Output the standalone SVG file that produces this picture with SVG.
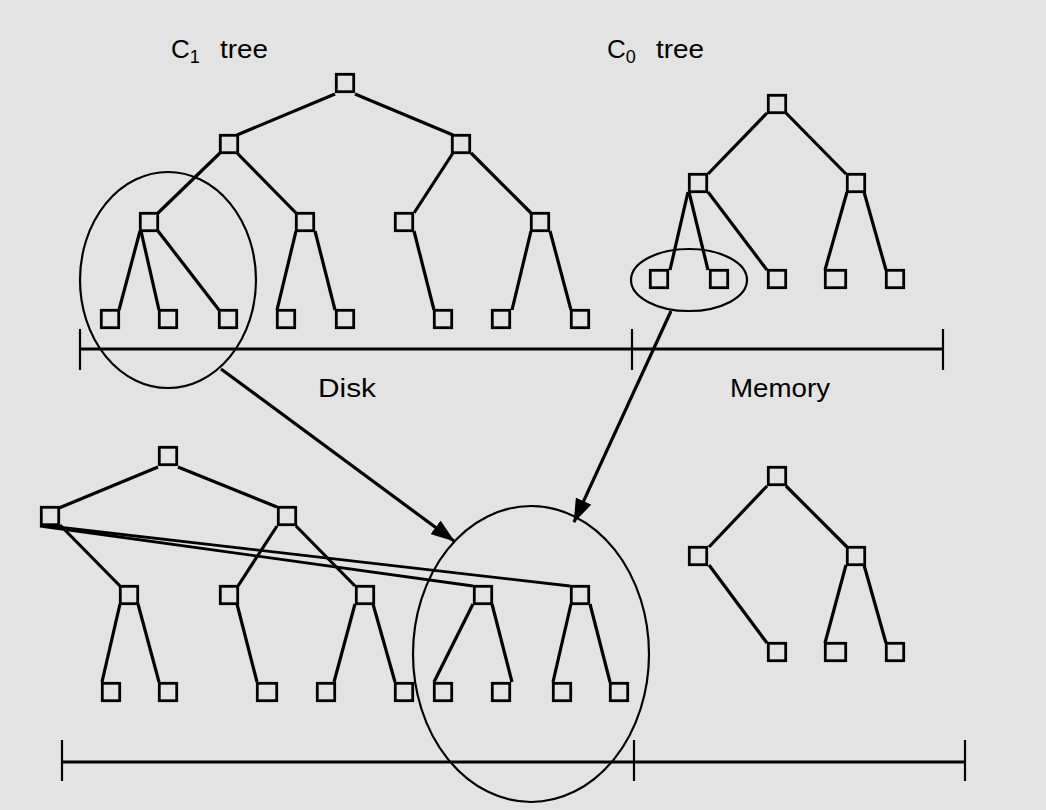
<svg xmlns="http://www.w3.org/2000/svg" width="1046" height="810" viewBox="0 0 1046 810">
<defs>
<style>
.bg{fill:#e3e3e3}
.n{fill:none;stroke:#000;stroke-width:2.8}
.e{stroke:#000;stroke-width:3.2;stroke-linecap:butt;fill:none}
.thin{stroke:#000;stroke-width:2.8;fill:none}
.ell{fill:none;stroke:#000;stroke-width:2.2}
.ax{stroke:#000;stroke-width:3;fill:none}
.tk{stroke:#000;stroke-width:2.2;fill:none}
.arr{stroke:#000;stroke-width:3.2;fill:none}
.t{font-family:"Liberation Sans",Arial,sans-serif;font-size:26px;fill:#000}
.s{font-size:18px}
</style>
<marker id="ah" viewBox="0 0 24 17" refX="23" refY="8.5" markerWidth="24" markerHeight="17" markerUnits="userSpaceOnUse" orient="auto">
<path d="M0,0 L24,8.5 L0,17 z" fill="#000"/>
</marker>
</defs>
<rect class="bg" x="0" y="0" width="1046" height="810"/>

<g id="labels">
<text class="t" x="171" y="58">C<tspan class="s" dy="5">1</tspan><tspan x="220" dy="-5" textLength="48" lengthAdjust="spacingAndGlyphs">tree</tspan></text>
<text class="t" x="607" y="58">C<tspan class="s" dy="5">0</tspan><tspan x="656" dy="-5" textLength="48" lengthAdjust="spacingAndGlyphs">tree</tspan></text>
<text class="t" x="318" y="397" textLength="58" lengthAdjust="spacingAndGlyphs">Disk</text>
<text class="t" x="730" y="397" textLength="100" lengthAdjust="spacingAndGlyphs">Memory</text>
</g>

<g id="axes">
<line class="ax" x1="80" y1="349" x2="943" y2="349"/>
<line class="tk" x1="80" y1="329" x2="80" y2="370"/>
<line class="tk" x1="632" y1="329" x2="632" y2="370"/>
<line class="tk" x1="943" y1="329" x2="943" y2="370"/>
<line class="ax" x1="62" y1="762" x2="965" y2="762"/>
<line class="tk" x1="62" y1="740" x2="62" y2="781"/>
<line class="tk" x1="634" y1="740" x2="634" y2="781"/>
<line class="tk" x1="965" y1="740" x2="965" y2="781"/>
</g>

<g id="connectors">
<!-- C1 tree -->
<line class="e" x1="335" y1="94" x2="237" y2="135"/>
<line class="e" x1="355" y1="94" x2="453" y2="135"/>
<line class="e" x1="220" y1="153" x2="158" y2="213"/>
<line class="e" x1="237" y1="153" x2="296" y2="213"/>
<line class="e" x1="453" y1="153" x2="414" y2="213"/>
<line class="e" x1="471" y1="153" x2="531" y2="213"/>
<line class="e" x1="140" y1="231" x2="119" y2="310"/>
<line class="e" x1="141" y1="231" x2="159" y2="310"/>
<line class="e" x1="158" y1="231" x2="219" y2="310"/>
<line class="e" x1="296" y1="231" x2="277" y2="310"/>
<line class="e" x1="315" y1="231" x2="335" y2="310"/>
<line class="e" x1="414" y1="231" x2="434" y2="310"/>
<line class="e" x1="531" y1="231" x2="512" y2="310"/>
<line class="e" x1="550" y1="231" x2="571" y2="310"/>
<!-- C0 tree -->
<line class="e" x1="767" y1="113" x2="708" y2="174"/>
<line class="e" x1="786" y1="113" x2="846" y2="174"/>
<line class="e" x1="688" y1="192" x2="670" y2="270"/>
<line class="e" x1="689" y1="192" x2="708" y2="270"/>
<line class="e" x1="708" y1="192" x2="767" y2="270"/>
<line class="e" x1="847" y1="192" x2="825" y2="270"/>
<line class="e" x1="864" y1="192" x2="886" y2="270"/>
<!-- bottom merged tree -->
<line class="e" x1="158" y1="467" x2="59" y2="508"/>
<line class="e" x1="178" y1="467" x2="277" y2="507"/>
<line class="e" x1="60" y1="525" x2="120" y2="586"/>
<line class="thin" x1="40" y1="526" x2="473" y2="586"/>
<line class="thin" x1="40" y1="525" x2="570" y2="586"/>
<line class="e" x1="277" y1="526" x2="238" y2="586"/>
<line class="e" x1="296" y1="526" x2="355" y2="586"/>
<line class="e" x1="120" y1="604" x2="102" y2="682"/>
<line class="e" x1="138" y1="604" x2="159" y2="682"/>
<line class="e" x1="237" y1="604" x2="257" y2="682"/>
<line class="e" x1="355" y1="604" x2="334" y2="682"/>
<line class="e" x1="373" y1="604" x2="395" y2="682"/>
<line class="e" x1="473" y1="604" x2="434" y2="682"/>
<line class="e" x1="492" y1="604" x2="512" y2="682"/>
<line class="e" x1="571" y1="604" x2="553" y2="682"/>
<line class="e" x1="590" y1="604" x2="610" y2="682"/>
<!-- bottom C0 tree -->
<line class="e" x1="767" y1="486" x2="709" y2="547"/>
<line class="e" x1="786" y1="486" x2="847" y2="547"/>
<line class="e" x1="709" y1="565" x2="767" y2="643"/>
<line class="e" x1="846" y1="565" x2="825" y2="643"/>
<line class="e" x1="864" y1="565" x2="886" y2="643"/>
<!-- merge arrows -->
<line class="arr" x1="221" y1="369" x2="454" y2="541" marker-end="url(#ah)"/>
<line class="arr" x1="671" y1="311" x2="574" y2="522" marker-end="url(#ah)"/>
</g>

<g id="ellipses">
<ellipse id="c1-subtree" class="ell" cx="168" cy="280" rx="88" ry="108"/>
<ellipse id="c0-leaves" class="ell" cx="689" cy="280" rx="58" ry="31"/>
<ellipse id="merged-region" class="ell" cx="531" cy="654" rx="118" ry="148"/>
</g>

<g id="c1-nodes">
<g id="c1-root"><rect class="n" x="336.3" y="74.3" width="17.4" height="17.4"/></g>
<g id="c1-l2a"><rect class="n" x="220.3" y="135.3" width="17.4" height="17.4"/></g>
<g id="c1-l2b"><rect class="n" x="452.3" y="135.3" width="17.4" height="17.4"/></g>
<g id="c1-l3a"><rect class="n" x="140.3" y="213.3" width="17.4" height="17.4"/></g>
<g id="c1-l3b"><rect class="n" x="296.3" y="213.3" width="17.4" height="17.4"/></g>
<g id="c1-l3c"><rect class="n" x="395.3" y="213.3" width="17.4" height="17.4"/></g>
<g id="c1-l3d"><rect class="n" x="531.3" y="213.3" width="17.4" height="17.4"/></g>
<g id="c1-leaf1"><rect class="n" x="101.3" y="310.3" width="17.4" height="17.4"/></g>
<g id="c1-leaf2"><rect class="n" x="159.3" y="310.3" width="17.4" height="17.4"/></g>
<g id="c1-leaf3"><rect class="n" x="219.3" y="310.3" width="17.4" height="17.4"/></g>
<g id="c1-leaf4"><rect class="n" x="277.3" y="310.3" width="17.4" height="17.4"/></g>
<g id="c1-leaf5"><rect class="n" x="336.3" y="310.3" width="17.4" height="17.4"/></g>
<g id="c1-leaf6"><rect class="n" x="434.3" y="310.3" width="17.4" height="17.4"/></g>
<g id="c1-leaf7"><rect class="n" x="492.3" y="310.3" width="17.4" height="17.4"/></g>
<g id="c1-leaf8"><rect class="n" x="571.3" y="310.3" width="17.4" height="17.4"/></g>
</g>

<g id="c0-nodes">
<g id="c0-root"><rect class="n" x="768.3" y="95.3" width="17.4" height="17.4"/></g>
<g id="c0-l2a"><rect class="n" x="689.3" y="174.3" width="17.4" height="17.4"/></g>
<g id="c0-l2b"><rect class="n" x="847.3" y="174.3" width="17.4" height="17.4"/></g>
<g id="c0-leaf1"><rect class="n" x="650.3" y="270.3" width="17.4" height="17.4"/></g>
<g id="c0-leaf2"><rect class="n" x="710.3" y="270.3" width="17.4" height="17.4"/></g>
<g id="c0-leaf3"><rect class="n" x="768.3" y="270.3" width="17.4" height="17.4"/></g>
<g id="c0-leaf4"><rect class="n" x="825.3" y="270.3" width="20.4" height="17.4"/></g>
<g id="c0-leaf5"><rect class="n" x="886.3" y="270.3" width="17.4" height="17.4"/></g>
</g>

<g id="new-c1-nodes">
<g id="n-root"><rect class="n" x="159.3" y="447.3" width="17.4" height="17.4"/></g>
<g id="n-l2a"><rect class="n" x="41.3" y="507.3" width="17.4" height="17.4"/></g>
<g id="n-l2b"><rect class="n" x="278.3" y="507.3" width="17.4" height="17.4"/></g>
<g id="n-l3a"><rect class="n" x="120.3" y="586.3" width="17.4" height="17.4"/></g>
<g id="n-l3b"><rect class="n" x="220.3" y="586.3" width="17.4" height="17.4"/></g>
<g id="n-l3c"><rect class="n" x="356.3" y="586.3" width="17.4" height="17.4"/></g>
<g id="n-l3d"><rect class="n" x="474.3" y="586.3" width="17.4" height="17.4"/></g>
<g id="n-l3e"><rect class="n" x="571.3" y="586.3" width="17.4" height="17.4"/></g>
<g id="n-leaf1"><rect class="n" x="102.3" y="683.3" width="17.4" height="17.4"/></g>
<g id="n-leaf2"><rect class="n" x="159.3" y="683.3" width="17.4" height="17.4"/></g>
<g id="n-leaf3"><rect class="n" x="257.3" y="683.3" width="19.4" height="17.4"/></g>
<g id="n-leaf4"><rect class="n" x="317.3" y="683.3" width="17.4" height="17.4"/></g>
<g id="n-leaf5"><rect class="n" x="395.3" y="683.3" width="17.4" height="17.4"/></g>
<g id="n-leaf6"><rect class="n" x="434.3" y="683.3" width="17.4" height="17.4"/></g>
<g id="n-leaf7"><rect class="n" x="492.3" y="683.3" width="17.4" height="17.4"/></g>
<g id="n-leaf8"><rect class="n" x="553.3" y="683.3" width="17.4" height="17.4"/></g>
<g id="n-leaf9"><rect class="n" x="610.3" y="683.3" width="17.4" height="17.4"/></g>
</g>

<g id="new-c0-nodes">
<g id="m-root"><rect class="n" x="768.3" y="467.3" width="17.4" height="17.4"/></g>
<g id="m-l2a"><rect class="n" x="689.3" y="547.3" width="17.4" height="17.4"/></g>
<g id="m-l2b"><rect class="n" x="847.3" y="547.3" width="17.4" height="17.4"/></g>
<g id="m-leaf1"><rect class="n" x="768.3" y="643.3" width="17.4" height="17.4"/></g>
<g id="m-leaf2"><rect class="n" x="825.3" y="643.3" width="20.4" height="17.4"/></g>
<g id="m-leaf3"><rect class="n" x="886.3" y="643.3" width="17.4" height="17.4"/></g>
</g>
</svg>
